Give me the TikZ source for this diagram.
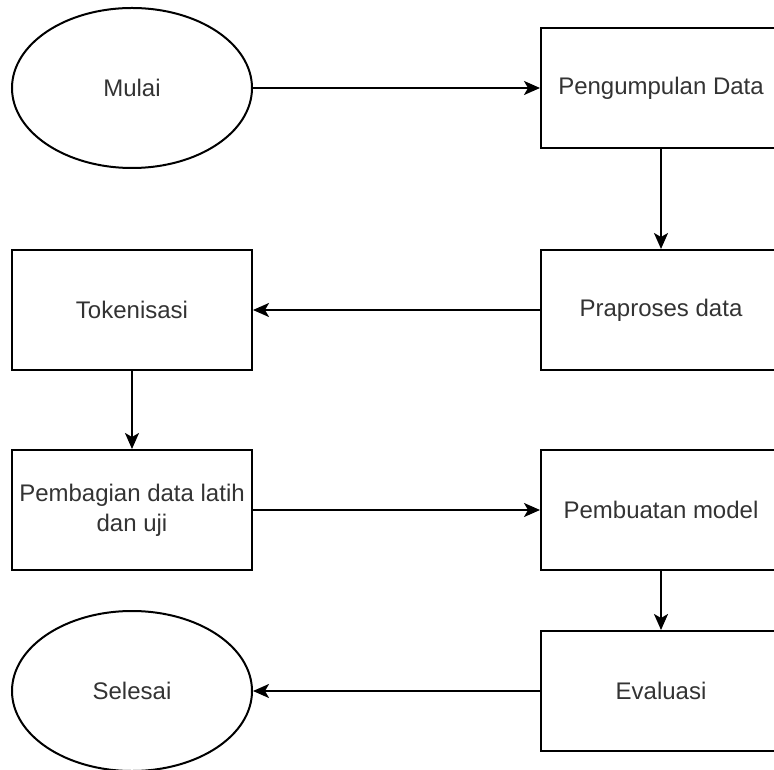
\documentclass[tikz,border=0pt]{standalone}
\usepackage{fontspec}
\setmainfont{Liberation Sans}
\usetikzlibrary{arrows.meta, positioning, shapes.geometric}

\begin{document}
\begin{tikzpicture}[
  node distance=143.5pt,
  line width=1pt,
  proc/.style={draw, align=center, minimum width=120pt, minimum height=60pt, inner sep=2pt, font=\fontsize{12}{15}\selectfont, text=black!80},
  term/.style={draw, ellipse, minimum width=120pt, minimum height=80pt, inner sep=0pt, font=\fontsize{12}{15}\selectfont, text=black!80},
  arr/.style={-{Stealth[length=8pt, width=7pt, inset=2pt]}}
]
\useasboundingbox (-66pt,44pt) rectangle (321pt,-340.5pt);
\node[term] (s1) at (0,0) {Mulai};
\node[proc, right=of s1] (s2) {Pengumpulan Data};
\node[proc, below=50pt of s2] (s3) {Praproses data};
\node[proc, left=of s3] (s4) {Tokenisasi};
\node[proc, below=39pt of s4] (s5) {Pembagian data latih\\dan uji};
\node[proc, right=of s5] (s6) {Pembuatan model};
\node[proc, below=29.5pt of s6] (s7) {Evaluasi};
\node[term, left=of s7] (s8) {Selesai};

\draw[arr] (s1) -- (s2);
\draw[arr] (s2) -- (s3);
\draw[arr] (s3) -- (s4);
\draw[arr] (s4) -- (s5);
\draw[arr] (s5) -- (s6);
\draw[arr] (s6) -- (s7);
\draw[arr] (s7) -- (s8);
\end{tikzpicture}
\end{document}
